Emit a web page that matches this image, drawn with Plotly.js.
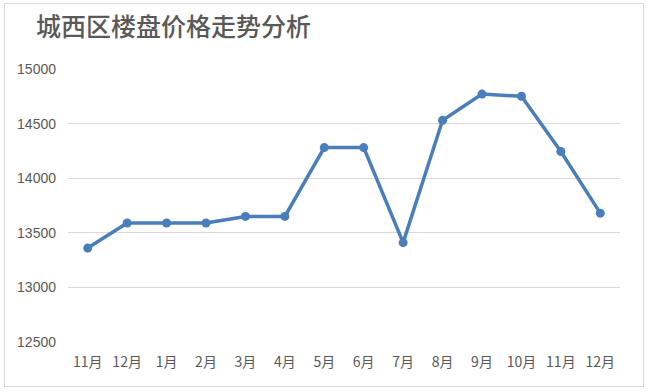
<!DOCTYPE html>
<html>
<head>
<meta charset="utf-8">
<script src="https://cdn.plot.ly/plotly-3.0.1.min.js"></script>
<style>
html,body{margin:0;padding:0;background:#fff;}
#chart{width:650px;height:392px;position:absolute;left:0;top:0;}
#frame{position:absolute;left:4px;top:3px;width:638px;height:382px;border:1px solid #d9d9d9;pointer-events:none;}
</style>
</head>
<body>
<div id="chart"></div>
<div id="frame"></div>
<script>
const months = ["11月","12月","1月","2月","3月","4月","5月","6月","7月","8月","9月","10月","11月","12月"];
const prices = [13360,13590,13590,13590,13650,13650,14280,14280,13410,14530,14770,14750,14245,13680];
const yTicks = [12500,13000,13500,14000,14500,15000];
const titleText = "城西区楼盘价格走势分析";

const idx = months.map((m,i)=>i);

const trace = {
  x: idx,
  y: prices,
  type: 'scatter',
  mode: 'lines+markers',
  line: {color:'#4a7ebb', width:3.5},
  marker: {color:'#4a7ebb', size:9},
  hoverinfo: 'skip'
};

const layout = {
  width: 650, height: 392,
  paper_bgcolor: 'rgba(0,0,0,0)',
  plot_bgcolor: '#ffffff',
  margin: {l:68, r:30, t:69, b:50, pad:0},
  showlegend: false,
  title: {
    text: titleText,
    x: 36/650, xref: 'container', xanchor: 'left',
    y: 1, yref: 'container', yanchor: 'top',
    pad: {t: 18, l: 0},
    font: {family: '"Noto Sans CJK SC", "Noto Sans", sans-serif', size: 25, color: '#595959', weight: 500}
  },
  xaxis: {
    range: [-0.5, 13.5],
    tickmode: 'array',
    tickvals: idx,
    ticktext: months,
    showgrid: false,
    zeroline: false,
    showline: false,
    ticks: '',
    ticklabelstandoff: 10,
    tickfont: {family: '"Noto Sans CJK SC", sans-serif', size: 14, color: '#595959'},
    fixedrange: true
  },
  yaxis: {
    range: [12500, 15000],
    tickmode: 'array',
    tickvals: yTicks,
    ticktext: yTicks.map(String),
    showgrid: true,
    gridcolor: '#d9d9d9',
    gridwidth: 1,
    zeroline: false,
    showline: false,
    ticks: '',
    ticklabelstandoff: 11,
    tickfont: {family: '"Liberation Sans", Arial, sans-serif', size: 14, color: '#595959'},
    fixedrange: true
  }
};

Plotly.newPlot('chart', [trace], layout, {displayModeBar:false, staticPlot:true});
</script>
</body>
</html>
